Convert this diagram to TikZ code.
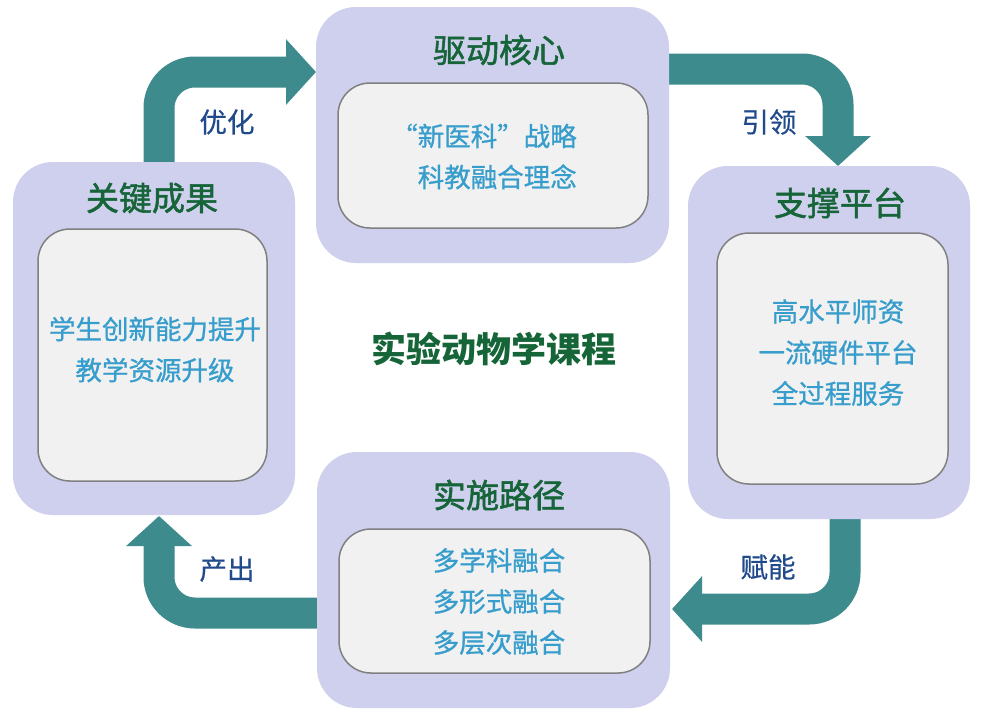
\documentclass[tikz,border=0pt]{standalone}
\usepackage{fontspec}
\setmainfont{Noto Sans CJK SC}
\newfontfamily\titlefont{Noto Sans CJK SC}[FakeBold=1.6]
\newfontfamily\itemfont{Noto Sans CJK SC}[FakeBold=0.9, RawFeature=+fwid]
\newfontfamily\labelfont{Noto Sans CJK SC}[FakeBold=0.5]
\usetikzlibrary{arrows.meta}
\definecolor{lav}{RGB}{207,207,238}
\definecolor{innerfill}{RGB}{241,241,241}
\definecolor{innerline}{RGB}{128,128,128}
\definecolor{titlegreen}{RGB}{22,101,56}
\definecolor{itemblue}{RGB}{55,157,204}
\definecolor{labelblue}{RGB}{32,74,140}
\definecolor{teal}{RGB}{62,139,142}
\tikzset{
  outerbox/.style={fill=lav, draw=none, rounded corners=40pt, inner sep=0pt},
  innerbox/.style={fill=innerfill, draw=innerline, line width=1.5pt, rounded corners=32pt, inner sep=0pt},
  titletext/.style={text=titlegreen, font=\titlefont\fontsize{33}{38}\selectfont, inner sep=0pt},
  itemtext/.style={text=itemblue, font=\itemfont\fontsize{26.5}{41}\selectfont, align=center, inner sep=0pt},
  labeltext/.style={text=labelblue, font=\labelfont\fontsize{27.5}{32}\selectfont, inner sep=0pt},
  centertext/.style={text=titlegreen, font=\bfseries\fontsize{35}{40}\selectfont, inner sep=0pt},
  flow/.style={draw=teal, line width=31pt, rounded corners=36pt,
    -{Triangle[width=64pt,length=30pt]}, shorten >=0pt},
}
\begin{document}
\begin{tikzpicture}[x=1pt,y=-1pt]
\useasboundingbox (0,0) rectangle (981,723);
\fill[white] (0,0) rectangle (981,723);
% box centres
\coordinate (tbc) at (492.5,135);
\coordinate (rbc) at (829,342.5);
\coordinate (lbc) at (154,338.5);
\coordinate (bbc) at (493.5,580);
% arrow ends (start hidden under a box, tip touching the next box)
\coordinate (a1s) at (159,200);
\coordinate (a1e) at (316,72);
\coordinate (a2s) at (640,69);
\coordinate (a2e) at (838,166);
\coordinate (a3s) at (845,490);
\coordinate (a3e) at (672,609);
\coordinate (a4s) at (345,613);
\coordinate (a4e) at (159,516);
\draw[flow] (a1s) |- (a1e);
\draw[flow] (a2s) -| (a2e);
\draw[flow] (a3s) |- (a3e);
\draw[flow] (a4s) -| (a4e);
% outer boxes
\node[outerbox, minimum width=353pt, minimum height=256pt] (tb) at (tbc) {};
\node[outerbox, minimum width=282pt, minimum height=353pt] (rb) at (rbc) {};
\node[outerbox, minimum width=282pt, minimum height=353pt] (lb) at (lbc) {};
\node[outerbox, minimum width=353pt, minimum height=256pt] (bb) at (bbc) {};
% inner boxes
\node[innerbox, minimum width=310pt, minimum height=145pt] (tbi) at (493,155.5) {};
\node[innerbox, minimum width=231pt, minimum height=251pt] (rbi) at (832.5,358.5) {};
\node[innerbox, minimum width=229pt, minimum height=252pt] (lbi) at (152.5,355) {};
\node[innerbox, minimum width=311pt, minimum height=144pt] (bbi) at (494.5,601) {};
% titles
\node[titletext] (tbt) at (499,50) {驱动核心};
\node[titletext] (rbt) at (840,203) {支撑平台};
\node[titletext] (lbt) at (152,198) {关键成果};
\node[titletext] (bbt) at (499,495) {实施路径};
% items
\node[itemtext] (tbx) at (484,156.5) {“新医科”战略\\　科教融合理念};
\node[itemtext] (rbx) at (838,352.5) {高水平师资\\一流硬件平台\\全过程服务};
\node[itemtext] (lbx) at (155,349.5) {学生创新能力提升\\教学资源升级};
\node[itemtext] (bbx) at (499,601.5) {多学科融合\\多形式融合\\多层次融合};
% centre
\node[centertext] (ctr) at (493.5,349) {实验动物学课程};
% arrow labels
\node[labeltext] (l1) at (227,122) {优化};
\node[labeltext] (l2) at (769,122) {引领};
\node[labeltext] (l3) at (768,567) {赋能};
\node[labeltext] (l4) at (227,569) {产出};
\end{tikzpicture}
\end{document}
